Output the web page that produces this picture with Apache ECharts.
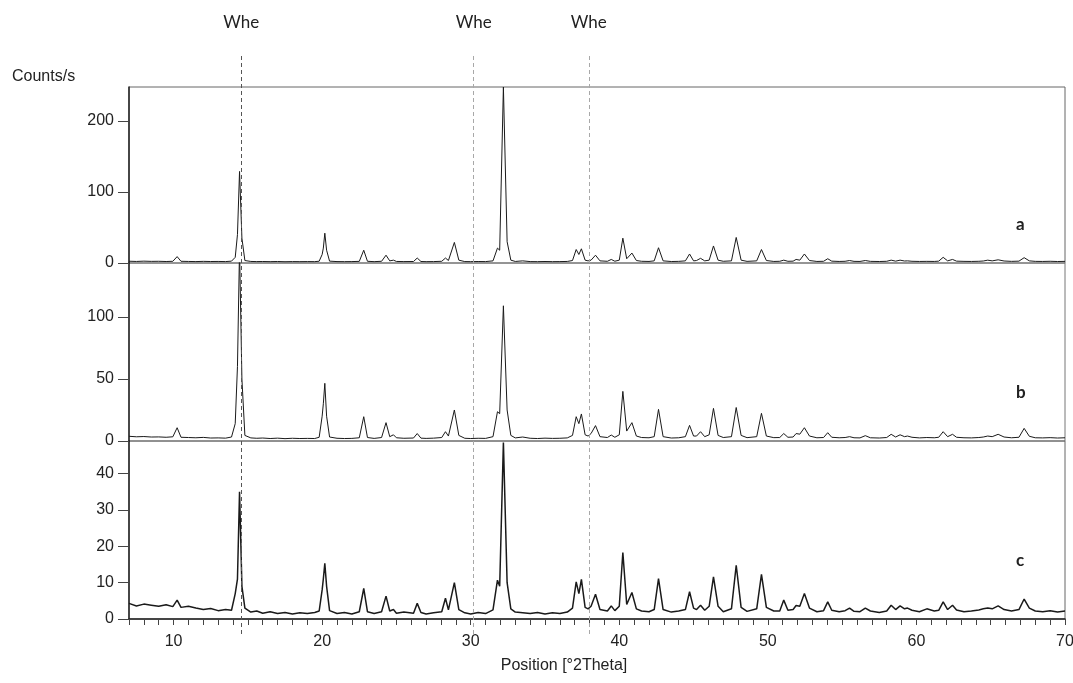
<!DOCTYPE html>
<html>
<head>
<meta charset="utf-8">
<script src="https://cdn.jsdelivr.net/npm/echarts@6/dist/echarts.min.js"></script>
<style>
html, body { margin: 0; padding: 0; background: #fff; }
#main { width: 1073px; height: 683px; }
</style>
</head>
<body>
<div id="main"></div>
<script>
// position [°2Theta], shared by the three patterns
const twoTheta = [
  7.0, 7.5, 8.0, 8.5, 9.0, 9.5, 9.95, 10.24, 10.5, 11.0,
  11.5, 12.0, 12.5, 13.0, 13.5, 13.9, 14.15, 14.3, 14.44, 14.6,
  14.8, 15.2, 15.6, 16.0, 16.5, 17.0, 17.5, 18.0, 18.5, 19.0,
  19.5, 19.8, 20.0, 20.08, 20.18, 20.3, 20.5, 21.0, 21.5, 22.0,
  22.5, 22.8, 23.05, 23.5, 24.0, 24.3, 24.55, 24.8, 25.0, 25.5,
  26.15, 26.4, 26.65, 27.0, 27.5, 28.05, 28.3, 28.5, 28.9, 29.2,
  29.6, 30.0, 30.5, 31.0, 31.5, 31.8, 31.95, 32.2, 32.45, 32.7,
  33.0, 33.5, 34.0, 34.5, 35.0, 35.5, 36.0, 36.5, 36.85, 37.1,
  37.28, 37.45, 37.7, 37.9, 38.1, 38.4, 38.7, 39.2, 39.46, 39.7,
  40.0, 40.24, 40.5, 40.85, 41.15, 41.5, 42.0, 42.35, 42.64, 42.95,
  43.5, 44.0, 44.45, 44.73, 45.0, 45.2, 45.47, 45.75, 46.05, 46.34,
  46.65, 47.0, 47.55, 47.87, 48.2, 48.6, 49.25, 49.57, 49.9, 50.4,
  50.8, 51.07, 51.35, 51.7, 51.9, 52.15, 52.46, 52.8, 53.3, 53.75,
  54.03, 54.3, 54.8, 55.2, 55.5, 55.8, 56.2, 56.56, 56.9, 57.5,
  58.0, 58.3, 58.6, 58.9, 59.2, 59.4, 59.7, 60.2, 60.7, 61.2,
  61.5, 61.8, 62.1, 62.43, 62.7, 63.2, 63.7, 64.2, 64.5, 64.8,
  65.1, 65.5, 65.9, 66.4, 66.9, 67.25, 67.6, 68.0, 68.5, 69.0,
  69.5, 70.0
];

// counts/s, sample a
const countsA = [
  2.5, 2.2, 2.6, 2.3, 2.4, 2.1, 2.4, 9, 2.4, 2.2,
  2.0, 2.3, 2.1, 2.2, 2.0, 2.6, 8, 40, 129, 35,
  3.5, 2.2, 2.0, 2.1, 1.9, 2.1, 1.8, 2.0, 1.9, 2.0,
  1.9, 2.5, 12, 21, 42, 18, 2.6, 2.0, 1.9, 2.0,
  2.3, 18, 2.4, 1.9, 2.4, 11, 3, 4, 2.2, 2.0,
  2.1, 7, 2.1, 1.9, 2.0, 2.4, 7, 3.5, 29, 4,
  2.0, 1.9, 2.1, 2.0, 3, 21, 18, 248, 30, 4,
  2.2, 3, 2.0, 1.9, 2.1, 1.9, 2.0, 2.2, 3.5, 19,
  12, 20, 4, 3, 4, 11, 3, 2.4, 5, 2.5,
  4, 35, 6, 14, 3.5, 2.4, 2.2, 3, 21.5, 3,
  2.1, 2.3, 3, 12.7, 3, 3.5, 6.6, 3, 4, 24,
  4, 2.4, 3, 36, 4, 2.3, 3, 19, 3.5, 2.2,
  2.4, 4, 2.4, 2.6, 5, 4, 12.7, 3.5, 2.2, 2.4,
  6, 2.6, 2.2, 2.4, 3.5, 2.3, 2.2, 3.5, 2.3, 2.1,
  2.4, 4, 2.6, 4, 2.8, 3, 2.4, 2.2, 2.3, 2.2,
  2.6, 8, 3, 5, 2.6, 2.3, 2.2, 2.4, 2.8, 4,
  3, 4.5, 2.8, 2.3, 2.6, 7.5, 3, 2.3, 2.2, 2.4,
  2.1, 2.3
];

// counts/s, sample b
const countsB = [
  3.8, 3.4, 3.6, 3.2, 3.3, 3.0, 3.4, 10.7, 3.0, 2.8,
  2.6, 2.9, 2.4, 2.5, 2.3, 3.2, 14, 60, 155, 50,
  4.5, 2.5, 2.2, 2.4, 2.0, 2.3, 1.9, 2.2, 2.0, 2.1,
  2.0, 3.0, 20, 30, 46.5, 20, 3.2, 2.2, 2.0, 2.1,
  2.6, 19.6, 2.8, 2.1, 2.8, 14.8, 3.5, 5, 2.6, 2.2,
  2.4, 6, 2.3, 2.1, 2.3, 2.8, 7.5, 4, 25, 4.5,
  2.2, 2.0, 2.2, 2.1, 3.5, 23.6, 22, 109, 25, 4.5,
  2.5, 3.2, 2.2, 2.0, 2.3, 2.1, 2.2, 2.5, 4.5, 19.6,
  14, 21.8, 5, 4, 6, 12.4, 3.5, 2.8, 4.8, 3.0,
  5, 40, 8, 14.8, 4, 2.8, 2.6, 3.5, 25.5, 3.5,
  2.4, 2.6, 3.5, 12.6, 4, 4, 7.5, 3.5, 5, 26.3,
  4.5, 2.8, 3.5, 27, 4.5, 2.7, 3.5, 22.3, 4, 2.7,
  2.8, 6, 3, 3.2, 6, 5.5, 10.7, 4, 2.6, 2.8,
  6.7, 3, 2.6, 2.8, 3.5, 2.6, 2.5, 4.3, 2.6, 2.4,
  2.8, 5.4, 3.2, 5, 3.5, 4, 3.0, 2.5, 2.8, 2.6,
  3.0, 7.5, 3.5, 5.4, 3, 2.6, 2.5, 2.8, 3.2, 4,
  3.5, 5.4, 3.2, 2.6, 3, 10.2, 3.8, 2.6, 2.5, 2.7,
  2.4, 2.6
];

// counts/s, sample c
const countsC = [
  4.3, 3.6, 4.1, 3.8, 3.5, 3.9, 3.4, 5.2, 3.2, 3.5,
  3.0, 2.6, 2.9, 2.3, 2.6, 2.4, 7, 11, 35, 9,
  3.0, 1.9, 2.2, 1.6, 2.0, 1.5, 1.8, 1.4, 1.7, 1.5,
  1.8, 2.2, 8, 11, 15.3, 9, 2.3, 1.5, 1.8, 1.4,
  2.0, 8.4, 2.0, 1.5, 2.0, 6.3, 2.2, 2.6, 1.6, 1.9,
  1.6, 4.3, 1.8, 1.4, 1.7, 2.0, 5.7, 2.5, 10, 2.6,
  1.7, 1.4, 1.8, 1.5, 2.5, 10.7, 9, 48.6, 10, 2.8,
  1.9, 1.7, 1.5, 1.8, 1.4, 1.7, 1.5, 1.9, 3.0, 10.2,
  7, 10.9, 3.2, 2.8, 3.5, 6.8, 2.6, 2.2, 3.6, 2.3,
  3.5, 18.3, 4, 7.3, 2.8, 2.2, 2.0, 2.6, 11.1, 2.6,
  1.9, 2.2, 2.6, 7.5, 3, 2.6, 3.8, 2.4, 3.5, 11.6,
  3.5, 2.0, 2.8, 14.8, 3.2, 2.1, 2.8, 12.3, 3.2, 2.2,
  2.2, 5.2, 2.4, 2.6, 3.7, 3.5, 7, 3, 2.0, 2.3,
  4.7, 2.4, 2.0, 2.3, 3, 2.1, 2.0, 3, 2.2, 1.8,
  2.2, 3.8, 2.6, 3.6, 2.8, 3.0, 2.4, 2.0, 2.8, 2.2,
  2.4, 4.7, 2.6, 3.8, 2.5, 2.0, 2.2, 2.5, 2.8, 3,
  2.8, 3.6, 2.6, 2.2, 2.6, 5.5, 3, 2.2, 2.0, 2.3,
  1.9, 2.2
];

const yTicksA = [0, 100, 200];
const yTicksB = [0, 50, 100];
const yTicksC = [0, 10, 20, 30, 40];
const xTicks = [10, 20, 30, 40, 50, 60, 70];
const wheLines = [14.55, 30.2, 37.95];
const sampleNames = ['a', 'b', 'c'];

var chartDom = document.getElementById('main');
var myChart = echarts.init(chartDom);

const numFont = { fontFamily: 'Liberation Sans, Arial', fontSize: 16, color: '#222' };
const toPairs = (ys) => twoTheta.map((x, i) => [x, ys[i]]);

function yAxisFor(gridIndex, max, ticks) {
  return {
    type: 'value',
    gridIndex: gridIndex,
    min: 0,
    max: max,
    axisLine: { show: true, lineStyle: { color: '#222', width: 1.5 } },
    axisTick: { show: true, length: 11, customValues: ticks, lineStyle: { color: '#444' } },
    axisLabel: Object.assign({ customValues: ticks, margin: 15 }, numFont),
    splitLine: { show: false }
  };
}

function hiddenX(gridIndex) {
  return { type: 'value', gridIndex: gridIndex, min: 7, max: 70, show: false };
}

function pattern(name, idx, ys, width) {
  return {
    name: name,
    type: 'line',
    xAxisIndex: idx,
    yAxisIndex: idx,
    data: toPairs(ys),
    showSymbol: false,
    symbol: 'none',
    clip: true,
    lineStyle: { color: '#1a1a1a', width: width },
    animation: false
  };
}

const gridBase = { left: 129, right: 8, outerBoundsMode: 'none', containLabel: false };

let option = {
  backgroundColor: '#fff',
  animation: false,
  grid: [
    Object.assign({ top: 87, height: 176, show: true, borderColor: '#666', borderWidth: 1 }, gridBase),
    Object.assign({ top: 263, height: 178, show: true, borderColor: '#777', borderWidth: 1 }, gridBase),
    Object.assign({ top: 441, height: 178, show: true, borderColor: '#666', borderWidth: 1 }, gridBase),
    // overlay for the Whe reference lines
    Object.assign({ top: 53, bottom: 49, show: false }, gridBase)
  ],
  xAxis: [
    hiddenX(0),
    hiddenX(1),
    {
      type: 'value',
      gridIndex: 2,
      min: 7,
      max: 70,
      interval: 1,
      name: 'Position [°2Theta]',
      nameLocation: 'middle',
      nameGap: 39,
      nameTextStyle: Object.assign({ padding: [0, 66, 0, 0] }, numFont),
      axisLine: { show: true, lineStyle: { color: '#222', width: 1.5 } },
      axisTick: { show: true, length: 6, lineStyle: { color: '#444' } },
      axisLabel: Object.assign({ customValues: xTicks, margin: 15 }, numFont),
      splitLine: { show: false }
    },
    hiddenX(3)
  ],
  yAxis: [
    yAxisFor(0, 248, yTicksA),
    yAxisFor(1, 143.5, yTicksB),
    yAxisFor(2, 49, yTicksC),
    { type: 'value', gridIndex: 3, min: 0, max: 1, show: false }
  ],
  graphic: [
    { type: 'text', left: 12, top: 69, style: { text: 'Counts/s', font: '16px "Liberation Sans", Arial', fill: '#222' } },
    { type: 'text', left: 1016, top: 216, style: { text: sampleNames[0], font: 'bold 17px Lato, "Open Sans"', fill: '#222' } },
    { type: 'text', left: 1016, top: 384, style: { text: sampleNames[1], font: 'bold 17px Lato, "Open Sans"', fill: '#222' } },
    { type: 'text', left: 1016, top: 552, style: { text: sampleNames[2], font: 'bold 17px Lato, "Open Sans"', fill: '#222' } }
  ],
  series: [
    pattern('a', 0, countsA, 1),
    pattern('b', 1, countsB, 1),
    pattern('c', 2, countsC, 1.5),
    {
      name: 'Whe',
      type: 'line',
      xAxisIndex: 3,
      yAxisIndex: 3,
      data: [],
      markLine: {
        silent: true,
        symbol: 'none',
        animation: false,
        label: {
          show: true,
          position: 'end',
          distance: 22,
          formatter: 'Whe',
          fontFamily: 'Lato, "Open Sans"',
          fontSize: 17,
          color: '#222'
        },
        data: wheLines.map((v, i) => ({
          xAxis: v,
          lineStyle: { type: [4, 3], width: 1, color: i === 0 ? '#555' : '#a8a8a8' }
        }))
      }
    }
  ]
};

option && myChart.setOption(option);
</script>
</body>
</html>
